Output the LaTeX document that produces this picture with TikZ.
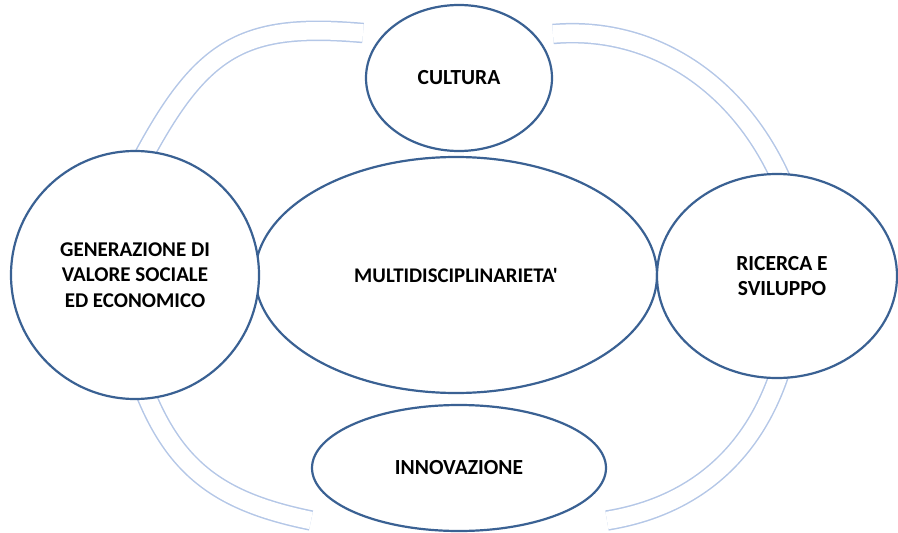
\documentclass[tikz,border=0pt]{standalone}
\usepackage{fontspec}
\setmainfont{Carlito}[Ligatures=TeXOff]
\usetikzlibrary{shapes.geometric}
\definecolor{navy}{HTML}{3A6193}
\definecolor{ringblue}{HTML}{B4C7E7}
\pgfdeclarelayer{background}
\pgfsetlayers{background,main}
\begin{document}
\begin{tikzpicture}[x=1pt,y=-1pt,
  bub/.style={ellipse, draw=navy, line width=2.2pt, fill=white, inner sep=0pt, align=center},
  big/.style={font=\fontsize{21.5}{24.5}\selectfont\bfseries},
  mid/.style={font=\fontsize{20.8}{24}\selectfont\bfseries},
  three/.style={font=\fontsize{21}{25.5}\selectfont\bfseries},
  ring/.style={draw=ringblue, line width=1.5pt, double=white, double distance=17.5pt}]
\useasboundingbox (0,0) rectangle (898,533);
% nodes
\node[bub, mid, minimum width=402pt, minimum height=236pt] (multi) at (456,275) {MULTIDISCIPLINARIETA'};
\node[bub, three, minimum width=248pt, minimum height=248pt] (gen) at (135,275) {GENERAZIONE DI\\VALORE SOCIALE\\ED ECONOMICO};
\node[bub, big, minimum width=240pt, minimum height=204pt] (ric) at (777,276) {\hspace*{10pt}RICERCA E\\\hspace*{10pt}SVILUPPO};
\node[bub, big, minimum width=186pt, minimum height=146pt] (cult) at (459,78) {CULTURA};
\node[bub, big, minimum width=294pt, minimum height=126pt] (inn) at (459,468) {INNOVAZIONE};
% ring end points
\coordinate (a1s) at (141,161);
\coordinate (a1e) at (363,33);
\coordinate (a2s) at (553,34);
\coordinate (a2e) at (783.7,185);
\coordinate (a3s) at (143.2,387.8);
\coordinate (a3e) at (311,520.5);
\coordinate (a4s) at (607,520.5);
\coordinate (a4e) at (782,365.5);
\begin{pgfonlayer}{background}
\draw[ring] (a1s) .. controls +(61,-114.8) and +(-119.5,-10.4) .. (a1e);
\draw[ring] (a2s) .. controls +(99.6,-8.7) and +(-42.9,-101.2) .. (a2e);
\draw[ring] (a3s) .. controls +(32.4,83.7) and +(-88.2,-18) .. (a3e);
\draw[ring] (a4s) .. controls +(89.1,-14.4) and +(-26.1,86.4) .. (a4e);
\end{pgfonlayer}
\end{tikzpicture}
\end{document}
